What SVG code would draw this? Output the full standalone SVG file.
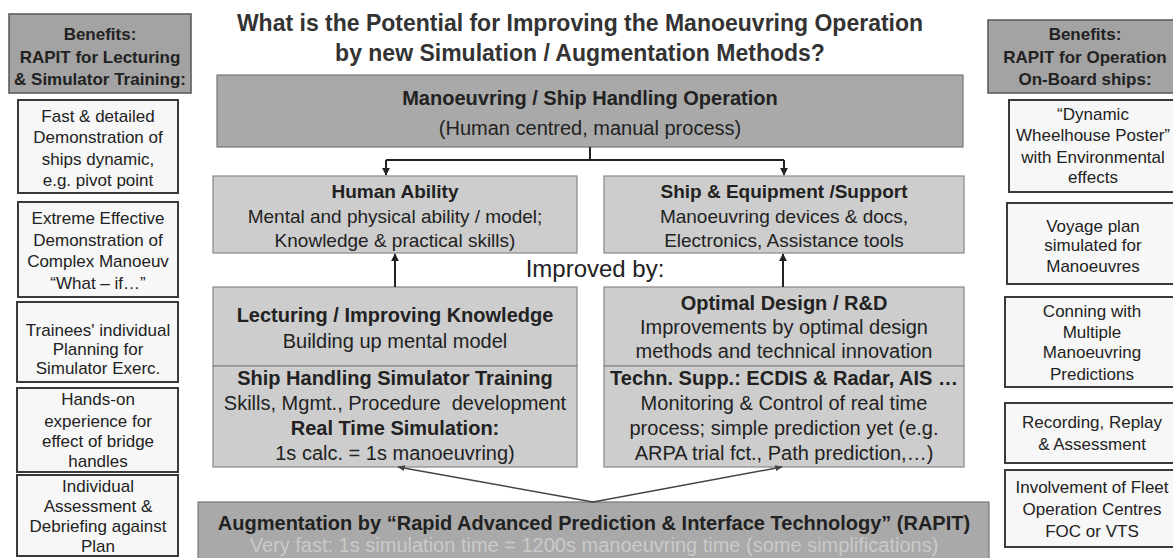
<svg xmlns="http://www.w3.org/2000/svg" width="1173" height="558" viewBox="0 0 1173 558">
<style>
text{font-family:"Liberation Sans",Arial,sans-serif;fill:#222;text-anchor:middle}
.t{font-size:23px;font-weight:bold;fill:#333}
.b{font-weight:bold}
.s17{font-size:17px}
.s19{font-size:19px}
.s20{font-size:20px}
.hdr{fill:#a3a3a3;stroke:#555;stroke-width:1.5}
.ben{fill:#f7f7f7;stroke:#3a3a3a;stroke-width:2}
.dark{fill:#a9a9a9;stroke:#777;stroke-width:1.2}
.light{fill:#cdcdcd;stroke:#888;stroke-width:1.2}
.con{fill:none;stroke:#222;stroke-width:2}
.thin{fill:none;stroke:#444;stroke-width:1.5}
</style>
<defs>
<marker id="ah" viewBox="0 0 10 10" refX="9" refY="5" markerWidth="4" markerHeight="4" orient="auto"><path d="M0,0 L10,5 L0,10 z" fill="#222"/></marker>
<marker id="ah2" viewBox="0 0 10 10" refX="9" refY="5" markerWidth="5" markerHeight="5" orient="auto"><path d="M0,1 L10,5 L0,9 z" fill="#444"/></marker>
</defs>
<rect width="1173" height="558" fill="#ffffff"/>

<g id="title">
<text class="t" x="580" y="31">What is the Potential for Improving the Manoeuvring Operation</text>
<text class="t" x="580" y="61">by new Simulation / Augmentation Methods?</text>
</g>

<g id="left-header">
<rect class="hdr" x="9" y="14" width="182" height="79"/>
<text class="s17 b" x="100" y="40">Benefits:</text>
<text class="s17 b" x="100" y="63">RAPIT for Lecturing</text>
<text class="s17 b" x="100" y="85">&amp; Simulator Training:</text>
</g>
<g id="left-1">
<rect class="ben" x="18" y="100" width="160" height="93"/>
<text class="s17" x="98" y="122">Fast &amp; detailed</text>
<text class="s17" x="98" y="143">Demonstration of</text>
<text class="s17" x="98" y="165">ships dynamic,</text>
<text class="s17" x="98" y="186">e.g. pivot point</text>
</g>
<g id="left-2">
<rect class="ben" x="18" y="202" width="160" height="95"/>
<text class="s17" x="98" y="224">Extreme Effective</text>
<text class="s17" x="98" y="246">Demonstration of</text>
<text class="s17" x="98" y="267">Complex Manoeuv</text>
<text class="s17" x="98" y="289">“What – if…”</text>
</g>
<g id="left-3">
<rect class="ben" x="17" y="302" width="161" height="80"/>
<text class="s17" x="98" y="336">Trainees' individual</text>
<text class="s17" x="98" y="355">Planning for</text>
<text class="s17" x="98" y="374">Simulator Exerc.</text>
</g>
<g id="left-4">
<rect class="ben" x="17" y="388" width="161" height="84"/>
<text class="s17" x="98" y="405">Hands-on</text>
<text class="s17" x="98" y="427">experience for</text>
<text class="s17" x="98" y="447">effect of bridge</text>
<text class="s17" x="98" y="467">handles</text>
</g>
<g id="left-5">
<rect class="ben" x="17" y="475" width="161" height="81"/>
<text class="s17" x="98" y="492">Individual</text>
<text class="s17" x="98" y="512">Assessment &amp;</text>
<text class="s17" x="98" y="532">Debriefing against</text>
<text class="s17" x="98" y="552">Plan</text>
</g>

<g id="right-header">
<rect class="hdr" x="988" y="20" width="194" height="73"/>
<text class="s17 b" x="1085" y="40">Benefits:</text>
<text class="s17 b" x="1085" y="63">RAPIT for Operation</text>
<text class="s17 b" x="1085" y="85">On-Board ships:</text>
</g>
<g id="right-1">
<rect class="ben" x="1009" y="100" width="175" height="92"/>
<text class="s17" x="1093" y="120">“Dynamic</text>
<text class="s17" x="1093" y="141">Wheelhouse Poster”</text>
<text class="s17" x="1093" y="163">with Environmental</text>
<text class="s17" x="1093" y="183">effects</text>
</g>
<g id="right-2">
<rect class="ben" x="1007" y="203" width="177" height="81"/>
<text class="s17" x="1093" y="232">Voyage plan</text>
<text class="s17" x="1093" y="251">simulated for</text>
<text class="s17" x="1093" y="272">Manoeuvres</text>
</g>
<g id="right-3">
<rect class="ben" x="1005" y="297" width="179" height="90"/>
<text class="s17" x="1092" y="317">Conning with</text>
<text class="s17" x="1092" y="338">Multiple</text>
<text class="s17" x="1092" y="358">Manoeuvring</text>
<text class="s17" x="1092" y="380">Predictions</text>
</g>
<g id="right-4">
<rect class="ben" x="1005" y="403" width="179" height="60"/>
<text class="s17" x="1092" y="428">Recording, Replay</text>
<text class="s17" x="1092" y="450">&amp; Assessment</text>
</g>
<g id="right-5">
<rect class="ben" x="1005" y="470" width="179" height="77"/>
<text class="s17" x="1092" y="493">Involvement of Fleet</text>
<text class="s17" x="1092" y="515">Operation Centres</text>
<text class="s17" x="1092" y="537">FOC or VTS</text>
</g>

<g id="operation">
<rect class="dark" x="217" y="75" width="746" height="72"/>
<text class="s20 b" x="590" y="105">Manoeuvring / Ship Handling Operation</text>
<text class="s20" x="590" y="135">(Human centred, manual process)</text>
</g>
<g id="human-ability">
<rect class="light" x="213" y="176" width="364" height="77"/>
<text class="s19 b" x="395" y="198">Human Ability</text>
<text class="s19" x="395" y="223">Mental and physical ability / model;</text>
<text class="s19" x="395" y="247">Knowledge &amp; practical skills)</text>
</g>
<g id="ship-equipment">
<rect class="light" x="604" y="176" width="360" height="77"/>
<text class="s19 b" x="784" y="198">Ship &amp; Equipment /Support</text>
<text class="s19" x="784" y="223">Manoeuvring devices &amp; docs,</text>
<text class="s19" x="784" y="247">Electronics, Assistance tools</text>
</g>
<g id="improved-by">
<text x="595" y="277" style="font-size:24px">Improved by:</text>
</g>
<g id="lecturing">
<rect class="light" x="213" y="287" width="364" height="79"/>
<text class="s20 b" x="395" y="322">Lecturing / Improving Knowledge</text>
<text class="s20" x="395" y="348">Building up mental model</text>
</g>
<g id="simulator-training">
<rect class="light" x="213" y="366" width="364" height="101"/>
<text class="s20 b" x="395" y="385">Ship Handling Simulator Training</text>
<text class="s20" x="395" y="410" xml:space="preserve">Skills, Mgmt., Procedure  development</text>
<text class="s20 b" x="395" y="435">Real Time Simulation:</text>
<text class="s20" x="395" y="460">1s calc. = 1s manoeuvring)</text>
</g>
<g id="optimal-design">
<rect class="light" x="604" y="287" width="360" height="79"/>
<text class="s20 b" x="784" y="310">Optimal Design / R&amp;D</text>
<text class="s20" x="784" y="334">Improvements by optimal design</text>
<text class="s20" x="784" y="358">methods and technical innovation</text>
</g>
<g id="techn-support">
<rect class="light" x="604" y="366" width="360" height="101"/>
<text class="s20 b" x="784" y="385">Techn. Supp.: ECDIS &amp; Radar, AIS …</text>
<text class="s20" x="784" y="410">Monitoring &amp; Control of real time</text>
<text class="s20" x="784" y="435">process; simple prediction yet (e.g.</text>
<text class="s20" x="784" y="460">ARPA trial fct., Path prediction,…)</text>
</g>
<g id="rapit">
<rect class="dark" x="198" y="502" width="791" height="62"/>
<text class="s20 b" x="594" y="530">Augmentation by “Rapid Advanced Prediction &amp; Interface Technology” (RAPIT)</text>
<text class="s20" x="594" y="552" style="fill:#cacaca">Very fast: 1s simulation time = 1200s manoeuvring time (some simplifications)</text>
</g>

<g id="connectors">
<path class="con" d="M590,147 V160 M386,160 H784"/>
<path class="con" d="M386,160 V175" marker-end="url(#ah)"/>
<path class="con" d="M784,160 V175" marker-end="url(#ah)"/>
<path class="con" d="M395,287 V254" marker-end="url(#ah)"/>
<path class="con" d="M783,287 V254" marker-end="url(#ah)"/>
<path class="thin" d="M593,502 L398,467" marker-end="url(#ah2)"/>
<path class="thin" d="M593,502 L782,467" marker-end="url(#ah2)"/>
</g>
</svg>
